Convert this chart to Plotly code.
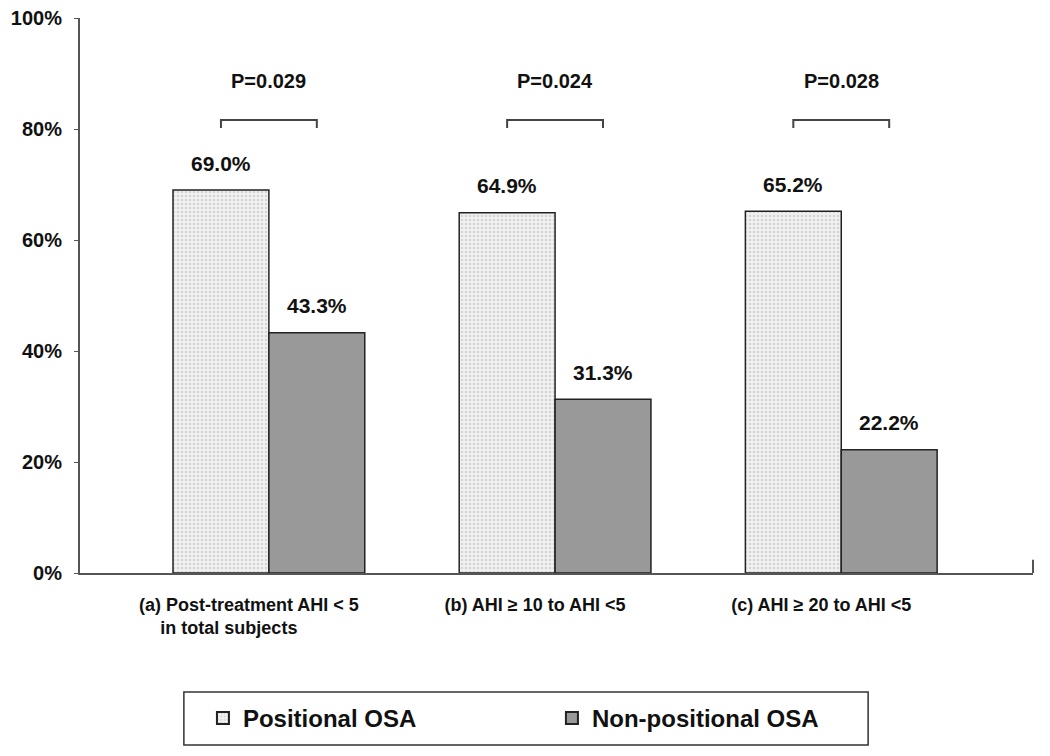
import plotly.graph_objects as go

categories = ["(a) Post-treatment AHI < 5<br>in total subjects" + "\u00a0" * 8,
              "(b) AHI \u2265 10 to AHI <5",
              "(c) AHI \u2265 20 to AHI <5"]
positional = [69.0, 64.9, 65.2]
non_positional = [43.3, 31.3, 22.2]
p_values = ["P=0.029", "P=0.024", "P=0.028"]
y_ticks = [0, 20, 40, 60, 80, 100]
y_tick_text = ["0%", "20%", "40%", "60%", "80%", "100%"]

FONT = "Arial, 'Liberation Sans', sans-serif"
BARGAP = 0.33
half = (1 - BARGAP) / 4  # offset of each bar centre from the category centre

xs = list(range(len(categories)))

fig = go.Figure()
fig.add_trace(go.Bar(
    x=xs, y=positional, name="Positional OSA",
    marker=dict(color="#f1f1f1", line=dict(color="#222", width=1.5),
                pattern=dict(shape=".", fgcolor="#b8b8b8", size=4, solidity=0.35)),
))
fig.add_trace(go.Bar(
    x=xs, y=non_positional, name="Non-positional OSA",
    marker=dict(color="#999999", line=dict(color="#222", width=1.5)),
))

annotations = []
for i in xs:
    annotations.append(dict(x=i - half, y=positional[i], xref="x", yref="y",
                            text=f"{positional[i]:.1f}%", showarrow=False,
                            yshift=27, font=dict(family=FONT, size=21, color="#111")))
    annotations.append(dict(x=i + half, y=non_positional[i], xref="x", yref="y",
                            text=f"{non_positional[i]:.1f}%", showarrow=False,
                            yshift=27, font=dict(family=FONT, size=21, color="#111")))
    annotations.append(dict(x=i, y=88.6, xref="x", yref="y", text=p_values[i],
                            showarrow=False, font=dict(family=FONT, size=20, color="#111")))

shapes = []
for i in xs:
    shapes.append(dict(type="path", xref="x", yref="y",
                       path=f"M {i-half},80.2 L {i-half},81.6 L {i+half},81.6 L {i+half},80.2",
                       line=dict(color="#444", width=2)))
# closing tick at the right end of the x axis
shapes.append(dict(type="line", xref="paper", yref="y", x0=1, x1=1, y0=0, y1=2.4,
                   line=dict(color="#555", width=2)))
# legend frame
shapes.append(dict(type="rect", xref="paper", yref="paper",
                   x0=0.109, x1=0.827, y0=-0.310, y1=-0.2144,
                   line=dict(color="#333", width=1.5), fillcolor="rgba(0,0,0,0)"))

# the page body has an 8px margin, so the figure is sized/margined to compensate
fig.update_layout(
    width=1042, height=748,
    margin=dict(l=72, r=17, t=10, b=183, autoexpand=False),
    paper_bgcolor="white", plot_bgcolor="white",
    barmode="group", bargap=BARGAP, bargroupgap=0,
    font=dict(family=FONT, color="#111"),
    annotations=annotations, shapes=shapes,
    legend=dict(orientation="h", x=0.129, y=-0.2216, xanchor="left", yanchor="top",
                borderwidth=0, entrywidth=304, bgcolor="rgba(0,0,0,0)",
                font=dict(family=FONT, size=24, color="#111"),
                itemsizing="constant", traceorder="normal"),
    xaxis=dict(range=[-0.66, 2.67], tickvals=xs, ticktext=categories,
               showline=True, linecolor="#555", linewidth=2, ticks="",
               showgrid=False, zeroline=False, ticklabelstandoff=14, ticklabelshift=-20,
               automargin=False, ticklabeloverflow="allow",
               tickfont=dict(family=FONT, size=18, color="#111")),
    yaxis=dict(range=[0, 100], tickvals=y_ticks, ticktext=y_tick_text,
               showline=True, linecolor="#555", linewidth=2, ticks="outside",
               ticklen=4, tickcolor="#555", showgrid=False, zeroline=False, automargin=False,
               ticklabelstandoff=8, ticklabeloverflow="allow",
               tickfont=dict(family=FONT, size=20, color="#111")),
)
fig.update_yaxes(tickfont_weight="bold")
fig.update_xaxes(tickfont_weight="bold")
fig.update_layout(legend_font_weight="bold")
for a in fig.layout.annotations:
    a.font.weight = "bold"

fig.write_html("out.html")
